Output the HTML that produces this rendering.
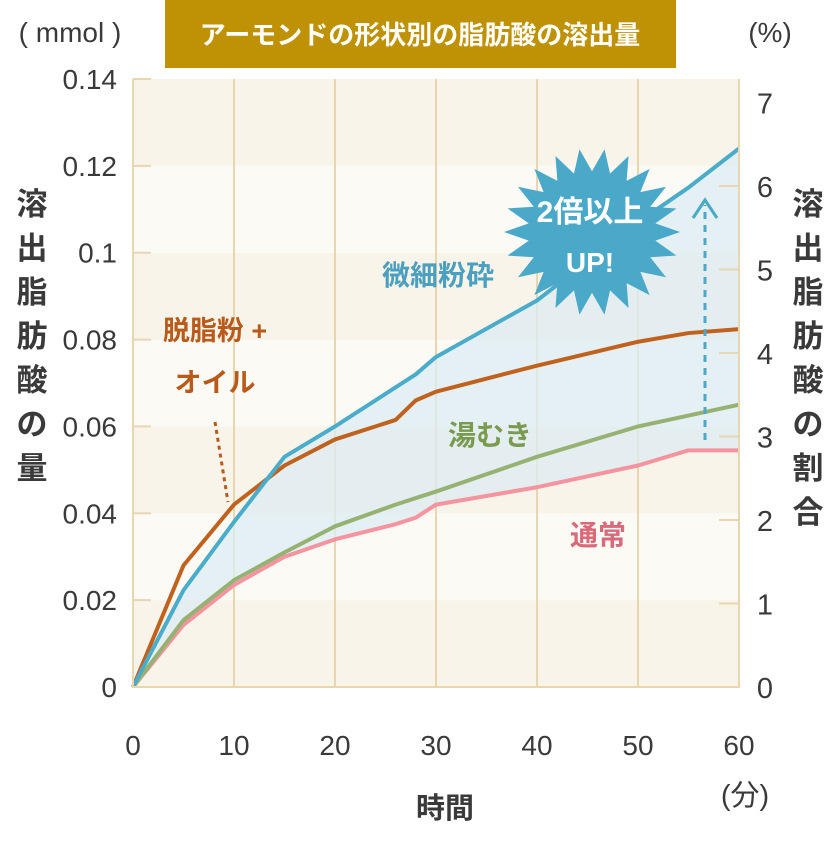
<!DOCTYPE html>
<html><head><meta charset="utf-8"><style>
body{margin:0;background:#fff;}
svg text{font-family:"Liberation Sans","Noto Sans CJK JP",sans-serif;}
</style></head><body>
<svg width="840" height="840" viewBox="0 0 840 840" xmlns="http://www.w3.org/2000/svg">
<rect x="0" y="0" width="840" height="840" fill="#fff"/>
<rect x="165" y="0" width="511" height="68" fill="#bf9206"/>
<text x="420" y="44" text-anchor="middle" font-size="26" font-weight="bold" fill="#fff">アーモンドの形状別の脂肪酸の溶出量</text>
<text x="70" y="42" text-anchor="middle" font-size="28" fill="#3a3a3a">( mmol )</text>
<text x="770" y="42" text-anchor="middle" font-size="28" fill="#3a3a3a">(%)</text>
<g id="bands"></g>
<g id="grid"></g>
<path id="fill" fill="#dcecf2" opacity="0.75"/>
<g id="lines"></g>
<g id="axes"></g>
<text x="32" y="185" font-size="31" font-weight="bold" fill="#3a3a3a" text-anchor="middle">
<tspan x="32" dy="30">溶</tspan><tspan x="32" dy="44">出</tspan><tspan x="32" dy="44">脂</tspan><tspan x="32" dy="44">肪</tspan><tspan x="32" dy="44">酸</tspan><tspan x="32" dy="44">の</tspan><tspan x="32" dy="44">量</tspan></text>
<text x="808" y="185" font-size="31" font-weight="bold" fill="#3a3a3a" text-anchor="middle">
<tspan x="808" dy="30">溶</tspan><tspan x="808" dy="44">出</tspan><tspan x="808" dy="44">脂</tspan><tspan x="808" dy="44">肪</tspan><tspan x="808" dy="44">酸</tspan><tspan x="808" dy="44">の</tspan><tspan x="808" dy="44">割</tspan><tspan x="808" dy="44">合</tspan></text>
<text x="445" y="818" text-anchor="middle" font-size="29" font-weight="bold" fill="#3a3a3a">時間</text>
<text x="745" y="805" text-anchor="middle" font-size="29" fill="#3a3a3a">(分)</text>
<text x="438" y="285" text-anchor="middle" font-size="28" font-weight="bold" fill="#4b9fbf">微細粉砕</text>
<text x="215" y="340" text-anchor="middle" font-size="27" font-weight="bold" fill="#b85a1a">脱脂粉 +</text>
<text x="215" y="392" text-anchor="middle" font-size="27" font-weight="bold" fill="#b85a1a">オイル</text>
<line x1="215" y1="422" x2="228" y2="502" stroke="#b85a1a" stroke-width="3" stroke-dasharray="4,4"/>
<text x="490" y="445" text-anchor="middle" font-size="28" font-weight="bold" fill="#7a9a50">湯むき</text>
<text x="598" y="545" text-anchor="middle" font-size="28" font-weight="bold" fill="#d86a7a">通常</text>
<polygon id="burst" fill="#4aa8c8"/>
<text x="590" y="222" text-anchor="middle" font-size="30" font-weight="bold" fill="#fff">2倍以上</text>
<text x="590" y="272" text-anchor="middle" font-size="28" font-weight="bold" fill="#fff">UP!</text>
<line x1="705" y1="440" x2="705" y2="205" stroke="#4aa8c8" stroke-width="3" stroke-dasharray="7,6"/>
<polyline points="693,218 705,200 717,218" fill="none" stroke="#4aa8c8" stroke-width="3"/>
</svg>
<script>
const times=[0,5,10,15,20,26,28,30,40,50,55,60];
const fineVals=[0,0.0223,0.038,0.053,0.060,0.069,0.072,0.076,0.089,0.107,0.115,0.124];
const oilVals=[0,0.028,0.042,0.051,0.057,0.0615,0.066,0.068,0.074,0.0795,0.0815,0.0824];
const blanchedVals=[0,0.0154,0.0246,0.031,0.037,0.042,0.0435,0.045,0.053,0.060,0.0625,0.065];
const normalVals=[0,0.0143,0.0235,0.030,0.034,0.0375,0.039,0.042,0.046,0.051,0.0545,0.0545];
const xTicks=[0,10,20,30,40,50,60];
const yTicks=[0,0.02,0.04,0.06,0.08,0.1,0.12,0.14];
const yTickLabels=["0","0.02","0.04","0.06","0.08","0.1","0.12","0.14"];
const pctTicks=[0,1,2,3,4,5,6,7];
const X0=133,X1=739,Y0=687,Y1=79;
const xs=t=>X0+(t/60)*(X1-X0);
const ys=v=>Y0-(v/0.14)*(Y0-Y1);
const yp=p=>Y0-p*83.5;
const NS="http://www.w3.org/2000/svg";
function mk(tag,attrs,parent){const e=document.createElementNS(NS,tag);for(const k in attrs)e.setAttribute(k,attrs[k]);document.getElementById(parent).appendChild(e);return e;}
for(let i=0;i<yTicks.length-1;i++){
 const r=mk('rect',{x:X0,y:ys(yTicks[i+1]),width:X1-X0,height:ys(yTicks[i])-ys(yTicks[i+1]),fill:i%2?'#fcfaf5':'#f9f4ea'},'bands');
 
 
}
xTicks.forEach((t,i)=>{
 if(i>0&&i<xTicks.length-1){const l=mk('line',{x1:xs(t),y1:Y1,x2:xs(t),y2:Y0,stroke:'#e8d6b0','stroke-width':2},'grid');
 
 }
 const tx=mk('text',{x:xs(t),y:755,'text-anchor':'middle','font-size':28,fill:'#3a3a3a'},'axes');tx.textContent=t;
 
 
});
yTicks.forEach((v,i)=>{
 const l=mk('line',{x1:X0,y1:ys(v),x2:X0+18,y2:ys(v),stroke:'#e8d6b0','stroke-width':2},'axes');
 
 
 const tx=mk('text',{x:117,y:ys(v)+10,'text-anchor':'end','font-size':28,fill:'#3a3a3a'},'axes');tx.textContent=yTickLabels[i];
 
 
});
pctTicks.forEach(p=>{
 if(p>0&&p<7){const l=mk('line',{x1:X1-20,y1:yp(p),x2:X1,y2:yp(p),stroke:'#e8d6b0','stroke-width':2},'axes');
 
 }
 const tx=mk('text',{x:765,y:yp(p)+11,'text-anchor':'middle','font-size':29,fill:'#3a3a3a'},'axes');tx.textContent=p;
 
 
});
const frame=mk('polyline',{points:`${X0},${Y1} ${X0},${Y0} ${X1},${Y0} ${X1},${Y1}`,fill:'none',stroke:'#e8d6b0','stroke-width':2},'axes');


const pts=a=>a.map((v,i)=>xs(times[i])+','+ys(v));
let d='M'+pts(fineVals).join(' L')+' L'+pts(normalVals).reverse().join(' L')+'Z';
document.getElementById('fill').setAttribute('d',d);
[[normalVals,'#f5939f','normal-line'],[blanchedVals,'#96b272','blanched-line'],[oilVals,'#c0621e','defatted-oil-line'],[fineVals,'#4aaccb','fine-line']].forEach(([a,c,n])=>{
 const p=mk('polyline',{points:pts(a).join(' '),fill:'none',stroke:c,'stroke-width':4,'stroke-linejoin':'round'},'lines');
 
 
});
let bp=[];const cx=592,cy=232,N=22;
for(let i=0;i<N*2;i++){const a=i*Math.PI/N;const r=i%2?64:88;bp.push((cx+r*Math.cos(a))+','+(cy+r*Math.sin(a)*0.95));}
document.getElementById('burst').setAttribute('points',bp.join(' '));
</script>
</body></html>
